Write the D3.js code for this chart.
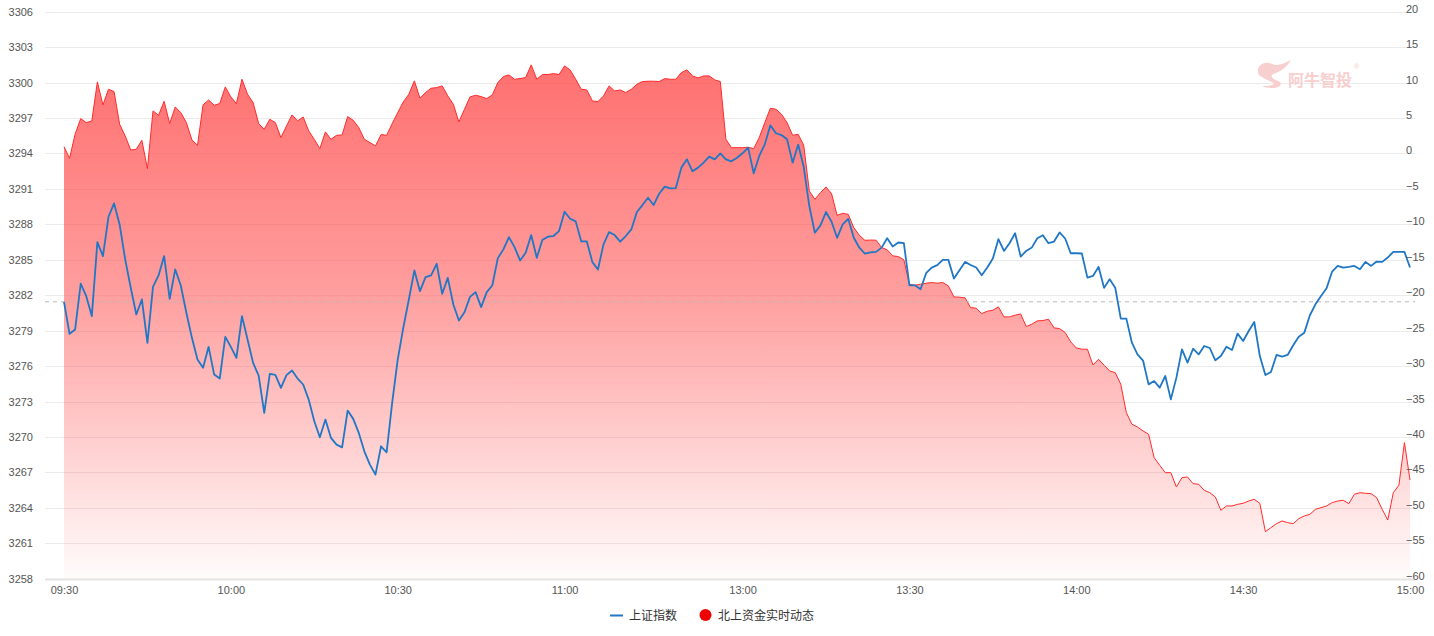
<!DOCTYPE html>
<html>
<head>
<meta charset="utf-8">
<script src="https://cdn.jsdelivr.net/npm/d3@7/dist/d3.min.js"></script>
<style>
  html, body { margin: 0; padding: 0; background: #ffffff; }
  svg { display: block; }
</style>
</head>
<body>
<svg id="chart" width="1434" height="636"></svg>
<script>
// ---------- data ----------
const shIndex = [
  3281.44, 3278.73, 3279.10, 3282.97, 3281.92, 3280.23, 3286.50, 3285.31, 3288.64, 3289.77,
  3287.99, 3285.03, 3282.63, 3280.37, 3281.64, 3277.97, 3282.71, 3283.67, 3285.31, 3281.69,
  3284.18, 3282.82, 3280.51, 3278.39, 3276.55, 3275.85, 3277.63, 3275.28, 3274.94, 3278.47,
  3277.63, 3276.69, 3280.23, 3278.25, 3276.27, 3275.20, 3272.03, 3275.34, 3275.25, 3274.15,
  3275.23, 3275.62, 3274.94, 3274.44, 3273.16, 3271.33, 3269.97, 3271.47, 3269.92, 3269.35,
  3269.12, 3272.23, 3271.53, 3270.34, 3268.78, 3267.66, 3266.81, 3269.21, 3268.70, 3272.88,
  3276.55, 3279.24, 3281.64, 3284.10, 3282.34, 3283.53, 3283.67, 3284.66, 3282.12, 3283.47,
  3281.21, 3279.86, 3280.56, 3281.86, 3282.26, 3280.99, 3282.26, 3282.82, 3285.14, 3285.88,
  3286.92, 3286.07, 3284.94, 3285.59, 3287.09, 3285.17, 3286.67, 3286.95, 3287.01, 3287.43,
  3289.07, 3288.47, 3288.25, 3286.55, 3286.55, 3284.80, 3284.18, 3286.30, 3287.34, 3287.09,
  3286.53, 3287.01, 3287.57, 3289.04, 3289.63, 3290.25, 3289.63, 3290.59, 3291.19, 3291.05,
  3291.07, 3292.80, 3293.50, 3292.49, 3292.80, 3293.22, 3293.73, 3293.50, 3294.01, 3293.50,
  3293.33, 3293.64, 3294.01, 3294.49, 3292.32, 3293.79, 3294.77, 3296.38, 3295.71, 3295.56,
  3295.20, 3293.22, 3294.75, 3292.85, 3289.55, 3287.29, 3287.91, 3289.04, 3288.22, 3286.86,
  3287.99, 3288.47, 3286.86, 3286.02, 3285.51, 3285.63, 3285.67, 3286.03, 3286.82, 3286.12,
  3286.46, 3286.40, 3282.84, 3282.84, 3282.50, 3283.86, 3284.34, 3284.54, 3284.99, 3284.99,
  3283.41, 3284.11, 3284.82, 3284.56, 3284.34, 3283.69, 3284.34, 3285.10, 3286.74, 3285.75,
  3286.40, 3287.25, 3285.27, 3285.75, 3286.03, 3286.82, 3287.08, 3286.40, 3286.54, 3287.31,
  3286.80, 3285.55, 3285.55, 3285.53, 3283.49, 3283.63, 3284.40, 3282.62, 3283.35, 3282.64,
  3280.02, 3280.02, 3277.98, 3276.99, 3276.47, 3274.45, 3274.73, 3274.17, 3275.16, 3273.18,
  3275.02, 3277.42, 3276.29, 3277.47, 3276.99, 3277.70, 3277.53, 3276.49, 3276.85, 3277.64,
  3277.36, 3278.75, 3278.12, 3278.97, 3279.73, 3276.85, 3275.24, 3275.50, 3276.94, 3276.80,
  3276.94, 3277.76, 3278.49, 3278.83, 3280.30, 3281.23, 3281.94, 3282.59, 3284.00, 3284.48,
  3284.34, 3284.40, 3284.48, 3284.20, 3284.82, 3284.48, 3284.85, 3284.82, 3285.19, 3285.67,
  3285.67, 3285.67, 3284.34
];

const northFlow = [
  0.96, -0.68, 2.71, 4.92, 4.35, 4.59, 10.09, 6.85, 9.06, 8.73,
  4.12, 2.47, 0.49, 0.59, 1.86, -2.14, 6.00, 5.39, 7.36, 4.21,
  6.56, 5.76, 4.35, 1.91, 1.15, 6.85, 7.55, 6.80, 7.04, 9.39,
  7.98, 7.04, 10.47, 8.35, 7.18, 4.21, 3.41, 4.82, 4.35, 2.24,
  3.88, 5.44, 4.59, 5.15, 3.18, 2.00, 0.68, 3.04, 2.00, 2.56,
  2.61, 5.20, 4.68, 3.65, 2.00, 1.53, 1.06, 2.66, 2.56, 4.21,
  5.76, 7.27, 8.35, 10.24, 7.79, 8.59, 9.20, 9.29, 9.53, 8.12,
  6.94, 4.45, 6.24, 7.98, 8.21, 8.02, 7.74, 8.26, 10.00, 10.85,
  11.08, 10.47, 10.56, 10.71, 12.49, 10.47, 11.13, 11.13, 11.27, 11.13,
  12.35, 11.79, 10.47, 9.06, 8.96, 7.41, 7.32, 8.12, 9.53, 8.82,
  8.96, 8.59, 9.06, 9.76, 10.14, 10.19, 10.19, 10.14, 10.56, 10.47,
  10.47, 11.41, 11.79, 10.94, 10.66, 10.94, 10.94, 10.38, 10.14, 2.00,
  0.82, 0.82, 0.82, 0.87, 0.68, 2.24, 4.35, 6.38, 6.24, 5.53,
  4.35, 2.56, 2.71, 1.15, -5.29, -6.47, -5.53, -4.73, -5.67, -8.73,
  -8.45, -8.59, -10.47, -11.55, -12.26, -12.22, -12.24, -13.27, -13.60, -14.45,
  -14.54, -15.01, -18.45, -18.59, -18.45, -18.31, -18.21, -18.31, -18.21, -18.68,
  -20.24, -20.28, -20.38, -21.74, -21.84, -22.59, -22.26, -22.12, -21.65, -23.06,
  -23.06, -22.82, -22.64, -24.42, -24.09, -23.62, -23.58, -23.39, -24.61, -24.71,
  -25.27, -26.59, -27.44, -27.62, -27.62, -29.84, -29.04, -29.88, -30.68, -30.92,
  -32.56, -36.56, -38.21, -38.59, -39.15, -39.62, -42.92, -44.00, -45.04, -45.04,
  -47.06, -45.74, -45.65, -46.59, -46.68, -47.53, -47.86, -48.47, -50.35, -49.74,
  -49.74, -49.51, -49.36, -49.04, -48.80, -49.36, -53.36, -52.80, -52.24, -51.86,
  -52.09, -52.24, -51.53, -51.15, -50.92, -50.21, -49.98, -49.74, -49.27, -49.04,
  -48.94, -49.41, -48.09, -47.86, -47.95, -48.00, -48.56, -50.21, -51.72, -47.86,
  -46.82, -40.80, -46.07
];

const prevClose = 3281.44;

const leftTicks  = [3258, 3261, 3264, 3267, 3270, 3273, 3276, 3279, 3282, 3285, 3288, 3291, 3294, 3297, 3300, 3303, 3306];
const rightTicks = [-60, -55, -50, -45, -40, -35, -30, -25, -20, -15, -10, -5, 0, 5, 10, 15, 20];
const timeTickLabels = ["09:30", "10:00", "10:30", "11:00", "13:00", "13:30", "14:00", "14:30", "15:00"];
const seriesNames = ["上证指数", "北上资金实时动态"];
const watermarkText = "阿牛智投";

// minute labels: morning session, the break point, afternoon session
function minuteRange(h0, m0, h1, m1) {
  const out = [];
  for (let t = h0 * 60 + m0; t <= h1 * 60 + m1; t++) {
    out.push(String(Math.floor(t / 60)).padStart(2, "0") + ":" + String(t % 60).padStart(2, "0"));
  }
  return out;
}
const times = minuteRange(9, 30, 11, 30).concat(["13:00"], minuteRange(13, 0, 15, 0));

// ---------- layout ----------
const svg = d3.select("#chart");
const plotTop = 11.7, plotBottom = 578.7;
const gridLeft = 45, gridRight = 1415;
const dataLeft = 64, dataRight = 1410;

const x = d3.scaleLinear().domain([0, times.length - 1]).range([dataLeft, dataRight]);
const yL = d3.scaleLinear().domain([3258, 3306]).range([plotBottom, plotTop]);
const yR = d3.scaleLinear().domain([-60, 20]).range([plotBottom, plotTop]);

const axisFont = "'Liberation Sans', Arial, sans-serif";
const cjkFont = "'Noto Sans CJK SC', 'Noto Sans', sans-serif";

// gradient
const defs = svg.append("defs");
const grad = defs.append("linearGradient")
  .attr("id", "redFill").attr("gradientUnits", "userSpaceOnUse")
  .attr("x1", 0).attr("y1", yR(d3.max(northFlow))).attr("x2", 0).attr("y2", plotBottom);
grad.append("stop").attr("offset", "0%").attr("stop-color", "rgb(255,80,80)").attr("stop-opacity", 0.82);
grad.append("stop").attr("offset", "45%").attr("stop-color", "rgb(255,80,80)").attr("stop-opacity", 0.55);
grad.append("stop").attr("offset", "100%").attr("stop-color", "rgb(255,80,80)").attr("stop-opacity", 0.02);

// gridlines
svg.append("g").selectAll("line").data(leftTicks).join("line")
  .attr("x1", gridLeft).attr("x2", gridRight)
  .attr("y1", d => Math.round(yL(d)) + 0.5).attr("y2", d => Math.round(yL(d)) + 0.5)
  .attr("stroke", d => d === 3258 ? "#e3e3e3" : "#ebebeb")
  .attr("stroke-width", d => d === 3258 ? 2 : 1);

// area + red line
const area = d3.area()
  .x((d, i) => x(i)).y0(plotBottom).y1(d => yR(d));
svg.append("path").datum(northFlow).attr("d", area).attr("fill", "url(#redFill)");
const redLine = d3.line().x((d, i) => x(i)).y(d => yR(d));
svg.append("path").datum(northFlow).attr("d", redLine)
  .attr("fill", "none").attr("stroke", "#ff2b2b").attr("stroke-width", 1);

// prev close dashed
svg.append("line")
  .attr("x1", gridLeft).attr("x2", gridRight)
  .attr("y1", yL(prevClose)).attr("y2", yL(prevClose))
  .attr("stroke", "#b8b8b8").attr("stroke-width", 1).attr("stroke-dasharray", "4,4");

// blue line
const blueLine = d3.line().x((d, i) => x(i)).y(d => yL(d));
svg.append("path").datum(shIndex).attr("d", blueLine)
  .attr("fill", "none").attr("stroke", "#1f77c6").attr("stroke-width", 1.8)
  .attr("stroke-linejoin", "round");

// left axis
const leftAxis = svg.append("g").attr("transform", "translate(33,0)")
  .call(d3.axisLeft(yL).tickValues(leftTicks).tickSize(0).tickPadding(0).tickFormat(d3.format("d")));
leftAxis.select(".domain").remove();
leftAxis.selectAll("text").attr("fill", "#555").style("font-size", "11px").style("font-family", axisFont);

// right axis
const rightAxis = svg.append("g").attr("transform", "translate(1406,-3)")
  .call(d3.axisRight(yR).tickValues(rightTicks).tickSize(0).tickPadding(0).tickFormat(d => d < 0 ? "\u2212" + Math.abs(d) : d));
rightAxis.select(".domain").remove();
rightAxis.selectAll("text").attr("fill", "#555").style("font-size", "11px").style("font-family", axisFont);

// bottom axis
const tickIdx = timeTickLabels.map(t => times.lastIndexOf(t));
const bottomAxis = svg.append("g").attr("transform", "translate(0,586)")
  .call(d3.axisBottom(x).tickValues(tickIdx).tickSize(0).tickPadding(0).tickFormat(i => times[i]));
bottomAxis.select(".domain").remove();
bottomAxis.selectAll("text").attr("fill", "#555").style("font-size", "11px").style("font-family", axisFont);

// legend
const legend = svg.append("g");
legend.append("line").attr("x1", 610).attr("x2", 623).attr("y1", 615.5).attr("y2", 615.5)
  .attr("stroke", "#1f77c6").attr("stroke-width", 2);
legend.append("text").attr("x", 629).attr("y", 620).text(seriesNames[0])
  .attr("fill", "#333").style("font-size", "12px").style("font-family", cjkFont);
legend.append("circle").attr("cx", 705.5).attr("cy", 615).attr("r", 6).attr("fill", "#ee0000");
legend.append("text").attr("x", 718).attr("y", 620).text(seriesNames[1])
  .attr("fill", "#333").style("font-size", "12px").style("font-family", cjkFont);

// watermark
const wm = svg.append("g").attr("opacity", 0.9);
wm.append("path")
  .attr("d", "M1258,72 C1257,64 1266,61 1272,64 C1278,67 1284,63 1291,60 C1286,68 1280,72 1273,74 C1270,76 1272,79 1278,81 C1283,83 1281,88 1272,88 C1268,88 1264,87 1262,86 C1268,86 1275,85 1274,83 C1270,81 1264,79 1262,77 C1259,76 1258,74 1258,72 Z")
  .attr("fill", "#f7caca");
wm.append("text").attr("x", 1288).attr("y", 86).text(watermarkText)
  .attr("fill", "#f7caca").style("font-size", "16px").style("font-weight", "bold").style("font-family", cjkFont);
wm.append("text").attr("x", 1354).attr("y", 69).text("®")
  .attr("fill", "#f7caca").style("font-size", "7px").style("font-family", axisFont);
</script>
</body>
</html>
